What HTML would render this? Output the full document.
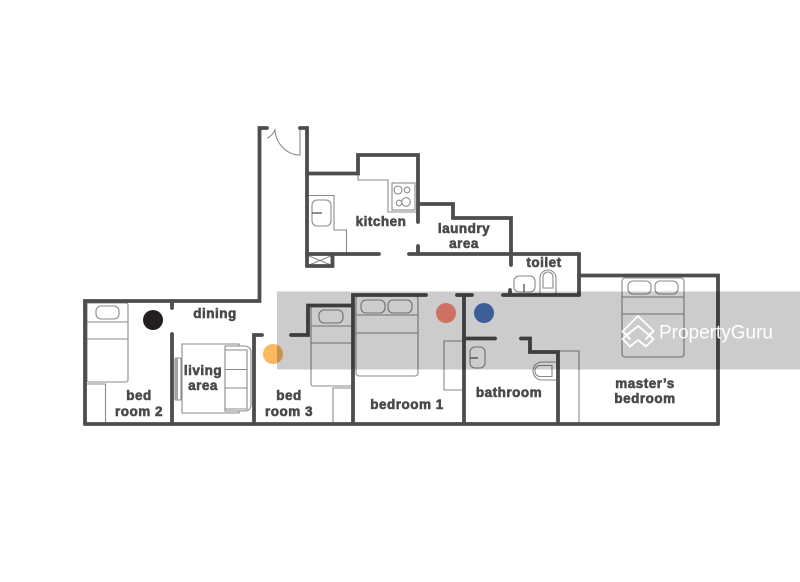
<!DOCTYPE html>
<html>
<head>
<meta charset="utf-8">
<style>
html,body{margin:0;padding:0;background:#fff;width:800px;height:582px;overflow:hidden}
svg{display:block}
.w{fill:none;stroke:#4d4d4d;stroke-width:3.8;stroke-linecap:round;stroke-linejoin:miter}
.f{fill:none;stroke:#8a8a8a;stroke-width:1.1}
text.l{font-family:"Liberation Sans",sans-serif;font-weight:700;font-size:13.5px;fill:#4a4a4a;stroke:#4a4a4a;stroke-width:.6;text-anchor:middle;letter-spacing:.5px}
</style>
</head>
<body>
<svg width="800" height="582" viewBox="0 0 800 582" xmlns="http://www.w3.org/2000/svg">
<rect width="800" height="582" fill="#fff"/>

<!-- furniture -->
<g class="f">
  <!-- bed room 2 -->
  <rect x="87" y="303" width="41" height="79" rx="2"/>
  <path d="M87 322H128M87 339H128"/>
  <rect x="96" y="306" width="23" height="13" rx="5"/>
  <path d="M87 384H105.500V424"/>
  <!-- living -->
  <path d="M239 346V344H182V413H239V411"/>
  <path d="M225 346H245a6 6 0 0 1 6 6V405a6 6 0 0 1 -6 6H225Z"/>
  <path d="M225 350H247V409H225"/>
  <path d="M225 369.500H247M225 388H247"/>
  <rect x="175" y="358" width="6" height="42" rx="1"/>
  <rect x="175" y="358" width="3" height="42" fill="#a5a5a5" stroke="none"/>
  <!-- bed room 3 -->
  <rect x="311" y="305" width="41" height="81" rx="2"/>
  <path d="M311 326H352M311 343H352"/>
  <rect x="319" y="310" width="24" height="13" rx="5"/>
  <path d="M333 424V388H353"/>
  <!-- bedroom 1 -->
  <rect x="356" y="296" width="62" height="80" rx="3"/>
  <path d="M356 315H418M356 333H418"/>
  <rect x="361" y="300" width="24" height="13" rx="5"/>
  <rect x="388" y="300" width="24" height="13" rx="5"/>
  <path d="M464 341H444V390H464"/>
  <!-- bathroom -->
  <rect x="470" y="347" width="15" height="21" rx="5"/>
  <path d="M558 362H542a9 9 0 0 0 0 18H558"/>
  <path d="M552 365.500H540a5 5 0 0 0 -5 5v1a5 5 0 0 0 5 5H552Z"/>
  <!-- master -->
  <rect x="622" y="278" width="62" height="79" rx="3"/>
  <path d="M622 297H684M622 314H684"/>
  <rect x="628" y="281" width="23" height="13" rx="5"/>
  <rect x="655" y="281" width="23" height="13" rx="5"/>
  <path d="M558 351H579V424"/>
  <!-- kitchen -->
  <path d="M358 173V180H388V212H418"/>
  <rect x="392" y="183" width="23" height="27"/>
  <circle cx="398" cy="190" r="4"/>
  <circle cx="407" cy="190" r="2.800"/>
  <circle cx="399" cy="203" r="2.800"/>
  <circle cx="406" cy="202" r="4.300"/>
  <path d="M308 195.500H334V230H346.500V254"/>
  <rect x="312" y="200" width="19" height="26" rx="5"/>
  <path d="M309 256L331 265M331 256L309 265"/>
  <!-- toilet -->
  <rect x="514" y="276" width="21" height="16" rx="5"/>
  <path d="M540 294V278a8 8 0 0 1 16 0V294"/>
  <path d="M543 288V277a5 5 0 0 1 10 0V288Z"/>
  <!-- door -->
  <path d="M300 128V155C287 155 276 144 275 130C273 134 270 137 267 138"/>
</g>
<path d="M312 213H322M470 358H478M524 284V292" fill="none" stroke="#4d4d4d" stroke-width="1.300"/>

<!-- walls -->
<g class="w">
  <path d="M85 424V301H259.500V128H267"/>
  <path d="M300 128H307V266"/>
  <path d="M307 173.500H358V155H418V222"/>
  <path d="M418 204H453V218H511V265"/>
  <path d="M307 254H379"/>
  <path d="M409 254H579V295"/>
  <path d="M418 246V254"/>
  <path d="M307 266H332.500V254"/>
  <path d="M579 275.500H718V424"/>
  <path d="M503 295H579"/>
  <path d="M510 290V295"/>
  <path d="M85 424H718"/>
  <path d="M172 301V308M172 334V424"/>
  <path d="M262 335H254V424"/>
  <path d="M291 335H308V305.500H353"/>
  <path d="M353 424V295H426"/>
  <path d="M457 295H472"/>
  <path d="M464 295V424"/>
  <path d="M464 338.500H495"/>
  <path d="M521 338.500H530V352H558V424"/>
</g>

<!-- labels -->
<text class="l" x="381" y="226">kitchen</text>
<text class="l" x="464" y="233">laundry</text>
<text class="l" x="464" y="248">area</text>
<text class="l" x="544" y="267">toilet</text>
<text class="l" x="215" y="318">dining</text>
<text class="l" x="203" y="375">living</text>
<text class="l" x="203" y="390">area</text>
<text class="l" x="139" y="400">bed</text>
<text class="l" x="139" y="416">room 2</text>
<text class="l" x="289" y="400">bed</text>
<text class="l" x="289" y="416">room 3</text>
<text class="l" x="407" y="409">bedroom 1</text>
<text class="l" x="509" y="397">bathroom</text>
<text class="l" x="645" y="388">master’s</text>
<text class="l" x="645" y="403">bedroom</text>

<!-- dots -->
<circle cx="153" cy="320" r="10" fill="#231f20"/>
<circle cx="273" cy="354" r="10" fill="#fbb95f"/>

<!-- grey band -->
<rect x="277" y="291.500" width="523" height="78" fill="#000" fill-opacity=".2"/>

<circle cx="446" cy="313" r="10" fill="#ce7063"/>
<circle cx="484" cy="313" r="10" fill="#3d5f99"/>

<!-- logo -->
<g fill="none" stroke="#fff" stroke-width="1.800" stroke-linejoin="round" stroke-linecap="round">
  <path d="M630 339L622.500 331.500L638 316L653.500 331L646 339"/>
  <path d="M627 335L638 326L649 335"/>
  <path d="M622.500 331.500L627 335L622.500 339L630 346.500L638 340L646 346.500L653.500 339L649 335L653.500 331"/>
</g>
<text x="659" y="338.500" font-family="'Liberation Sans',sans-serif" font-size="19" fill="#fff" textLength="114" lengthAdjust="spacingAndGlyphs">PropertyGuru</text>
</svg>
</body>
</html>
